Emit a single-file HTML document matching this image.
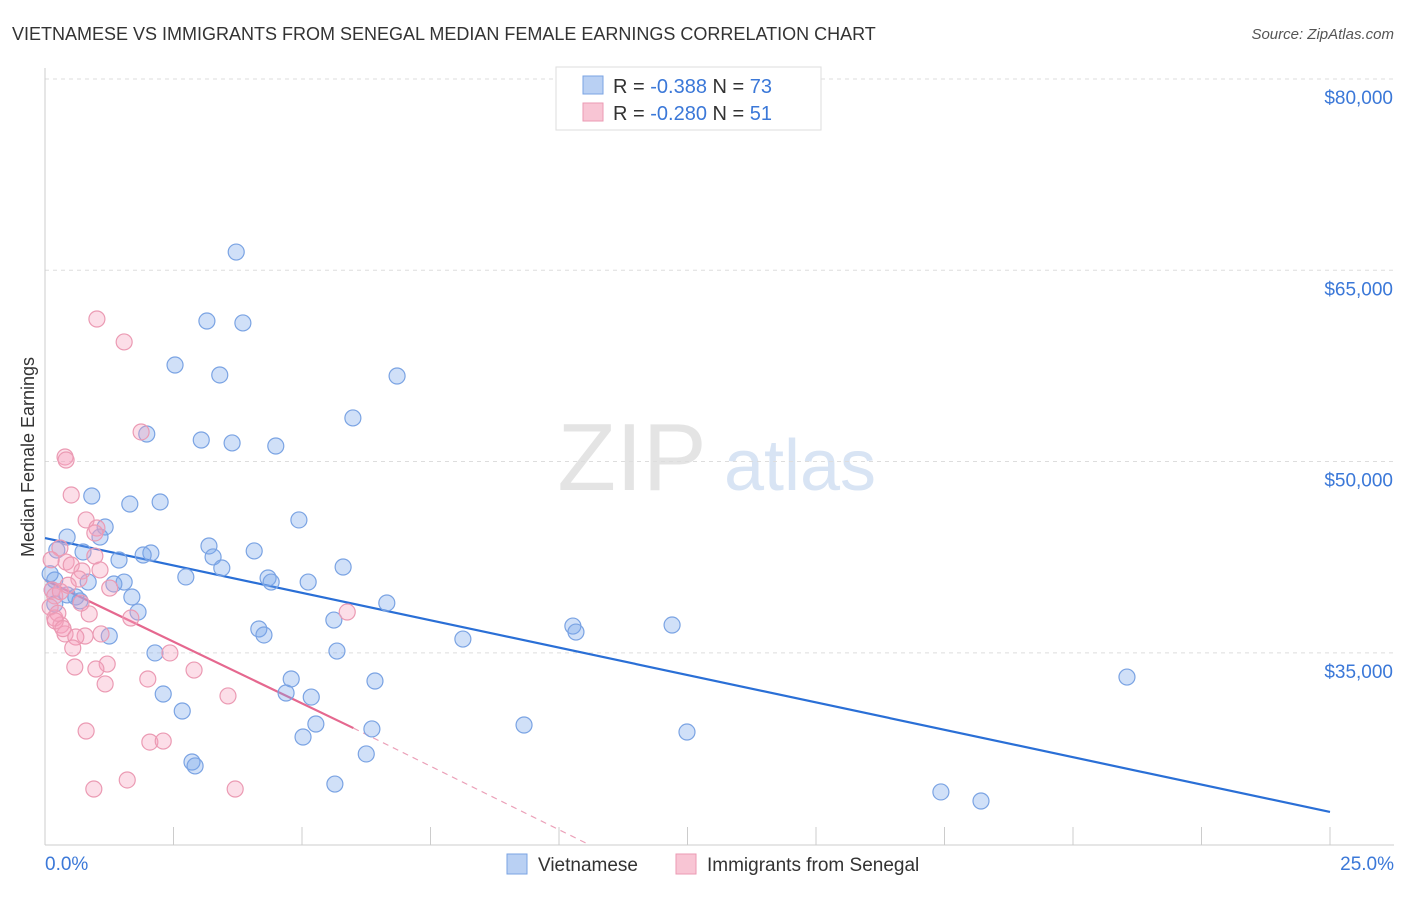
<!DOCTYPE html>
<html><head><meta charset="utf-8"><style>
body{margin:0;background:#fff;font-family:"Liberation Sans",sans-serif}
svg text{font-family:"Liberation Sans",sans-serif}
</style></head><body>
<svg id="chart" width="1406" height="892" xmlns="http://www.w3.org/2000/svg">
<text x="12" y="40" font-size="18" fill="#333">VIETNAMESE VS IMMIGRANTS FROM SENEGAL MEDIAN FEMALE EARNINGS CORRELATION CHART</text>
<text x="1394" y="39" font-size="15" fill="#555" text-anchor="end" font-style="italic">Source: ZipAtlas.com</text>
<g>
<text x="632" y="490" font-size="96" fill="#e4e4e4" text-anchor="middle" font-family="Liberation Serif">ZIP</text>
<text x="800" y="490" font-size="72" fill="#d8e4f4" text-anchor="middle">atlas</text>
</g>
<g id="grid"></g><g id="axes"></g><g id="lines"></g><g id="pts"></g>
<text transform="translate(34,457) rotate(-90)" font-size="18" fill="#333" text-anchor="middle">Median Female Earnings</text>
<g>
<rect x="556" y="67" width="265" height="63" fill="#fff" stroke="#ddd"/>
<rect x="583" y="76" width="20" height="18" fill="#b9d0f3" stroke="#7aa3e3"/>
<text x="613" y="93" font-size="20" fill="#333">R = <tspan fill="#3b78d8">-0.388</tspan>   N = <tspan fill="#3b78d8">73</tspan></text>
<rect x="583" y="103" width="20" height="18" fill="#f8c5d4" stroke="#eb9ab3"/>
<text x="613" y="120" font-size="20" fill="#333">R = <tspan fill="#3b78d8">-0.280</tspan>   N = <tspan fill="#3b78d8"> 51</tspan></text>
</g>
<g>
<rect x="507" y="854" width="20" height="20" fill="#b9d0f3" stroke="#7aa3e3"/>
<text x="538" y="871" font-size="19" fill="#333">Vietnamese</text>
<rect x="676" y="854" width="20" height="20" fill="#f8c5d4" stroke="#eb9ab3"/>
<text x="707" y="871" font-size="19" fill="#333">Immigrants from Senegal</text>
</g>
</svg>
<script>
const yTicks=[35000,50000,65000,80000];
const yTickLabels=["$35,000","$50,000","$65,000","$80,000"];
const xTickLabels=["0.0%","25.0%"];
const blueX=[3.72,3.15,3.85,2.53,3.40,6.85,5.99,1.98,3.04,3.64,4.49,0.91,1.65,2.24,4.94,0.43,1.17,1.07,0.23,0.74,3.19,4.07,2.06,1.91,1.44,3.27,3.44,5.80,2.74,4.34,4.40,5.12,1.54,1.34,0.84,0.19,0.14,0.43,0.60,0.68,1.69,6.65,1.81,0.19,5.62,4.16,4.26,10.27,10.33,12.20,8.13,1.25,5.68,2.14,4.79,6.42,21.05,2.30,4.69,5.18,2.67,5.27,9.32,6.36,12.49,5.02,2.86,2.92,6.25,5.64,17.43,18.21,0.10];
const blueY=[66430,61020,60870,57570,56790,56710,53420,52160,51690,51460,51220,47300,46670,46830,45420,44080,44870,44080,43060,42910,43380,42990,42830,42670,42280,42520,41650,41730,40950,40870,40550,40550,40550,40400,40550,40710,39930,39540,39380,39070,39380,38910,38200,38830,37570,36870,36400,37100,36630,37180,36080,36320,35140,34990,32950,32790,33100,31770,31850,31530,30440,29420,29340,29030,28790,28400,26440,26130,27070,24710,24090,23380,41200];
const pinkX=[1.01,1.54,1.87,0.39,0.41,0.51,0.80,1.01,0.97,0.29,0.97,0.41,0.51,0.72,0.66,1.26,0.14,0.19,0.10,0.86,1.67,5.88,0.19,0.31,0.39,0.78,0.60,1.09,0.54,2.43,1.21,0.58,0.99,2.90,2.00,1.17,3.56,0.80,2.04,2.30,1.60,0.95,3.70,1.07,0.12,0.30,0.45,0.25,0.70,0.20,0.35];
const pinkY=[61180,59380,52320,50360,50120,47380,45420,44790,44400,43220,42590,42120,41890,41420,40790,40080,39930,39460,38590,38050,37730,38200,37730,37180,36480,36320,36240,36480,35380,34990,34120,33890,33730,33650,32950,32560,31620,28870,28000,28080,25030,24320,24320,41500,42300,39800,40300,38100,38900,37500,36900];
const blueLine=[[0,44000],[25,22520]];
const pinkLine=[[0,40710],[6,29100]];
const pinkDash=[[6,29100],[10.6,19930]];
const NS="http://www.w3.org/2000/svg";
const sx=v=>45+v*51.4, sy=v=>79+(80000-v)/78.42;
function mk(t,a,p){const e=document.createElementNS(NS,t);for(const k in a)e.setAttribute(k,a[k]);p.appendChild(e);return e;}
const grid=document.getElementById('grid'),axes=document.getElementById('axes'),lines=document.getElementById('lines'),pts=document.getElementById('pts');
yTicks.forEach((v,i)=>{
 const l=mk('line',{x1:45,x2:1394,y1:sy(v),y2:sy(v),stroke:'#ddd','stroke-dasharray':'4,4'},grid);
 
 
 const t=mk('text',{x:1393,y:sy(v)+25,'font-size':19,fill:'#3b78d8','text-anchor':'end'},axes);
 t.textContent=yTickLabels[i];
 
 
});
const ax=mk('line',{x1:45,x2:45,y1:68,y2:845,stroke:'#ccc'},axes);


const bx=mk('line',{x1:45,x2:1394,y1:845,y2:845,stroke:'#ccc'},axes);


for(let i=0;i<=10;i++){const tk=mk('line',{x1:sx(i*2.5),x2:sx(i*2.5),y1:827,y2:845,stroke:'#ccc'},axes);
 
 }
[[0,'start',45],[25,'end',1394]].forEach((d,i)=>{const t=mk('text',{x:d[2],y:870,'font-size':19,fill:'#3b78d8','text-anchor':d[1]},axes);t.textContent=xTickLabels[i];
 
 });
function pts_(X,Y,fill,stroke,name){X.forEach((x,i)=>{const c=mk('circle',{cx:sx(x),cy:sy(Y[i]),r:8,fill:fill,stroke:stroke,'stroke-width':1.2},pts);
 
 });}
pts_(blueX,blueY,'rgba(120,165,235,0.35)','#7aa3e3','vietnamese-point');
pts_(pinkX,pinkY,'rgba(245,160,190,0.35)','#eb9ab3','senegal-point');
function ln(p,c,w,d,name){const l=mk('line',{x1:sx(p[0][0]),y1:sy(p[0][1]),x2:sx(p[1][0]),y2:sy(p[1][1]),stroke:c,'stroke-width':w},lines);if(d)l.setAttribute('stroke-dasharray',d);
 
 }
ln(blueLine,'#2a6fd6',2.2,null,'vietnamese-trendline');
ln(pinkLine,'#e5688f',2.2,null,'senegal-trendline');
ln(pinkDash,'#eba0b8',1.2,'6,5','senegal-trendline-extension');
</script>
</body></html>
